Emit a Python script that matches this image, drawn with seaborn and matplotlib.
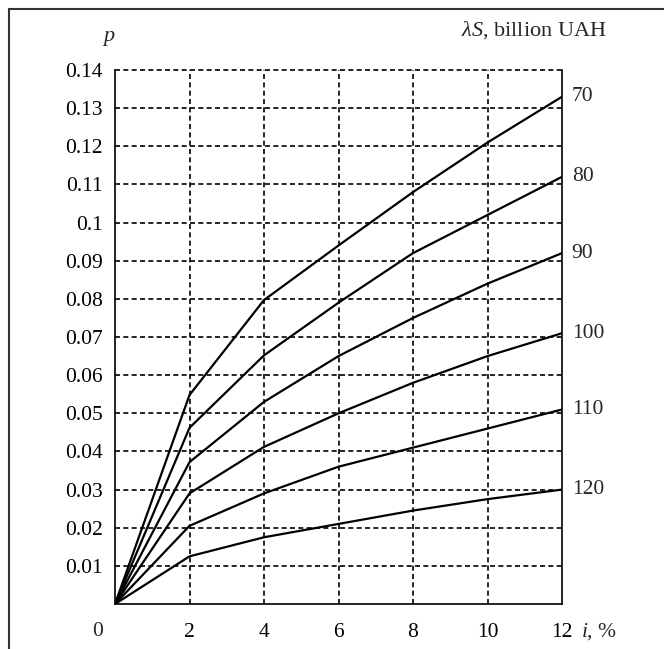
import numpy as np
import pandas as pd
import seaborn as sns
import matplotlib.pyplot as plt
import matplotlib.transforms as mtransforms
from matplotlib.lines import Line2D

# interest rate i, %
rates = [0, 2, 4, 6, 8, 10, 12]
# lambda*S, billion UAH (curve labels)
volumes = [70, 80, 90, 100, 110, 120]
# probability p for each curve
p70 = [0, 0.0548, 0.0797, 0.094, 0.108, 0.121, 0.133]
p80 = [0, 0.0462, 0.0652, 0.079, 0.092, 0.102, 0.112]
p90 = [0, 0.0372, 0.0530, 0.065, 0.075, 0.084, 0.092]
p100 = [0, 0.0290, 0.0412, 0.050, 0.058, 0.065, 0.071]
p110 = [0, 0.0205, 0.0290, 0.036, 0.041, 0.046, 0.051]
p120 = [0, 0.0125, 0.0175, 0.021, 0.0245, 0.0275, 0.030]
curves = [p70, p80, p90, p100, p110, p120]

ytick_vals = [round(0.01 * k, 2) for k in range(0, 15)]
ytick_labels = [''] + ['%g' % v for v in ytick_vals[1:]]
xtick_vals = [0, 2, 4, 6, 8, 10, 12]
xtick_labels = [''] + [str(v) for v in xtick_vals[1:]]

FS = 15.5

sns.set_style('white')
plt.rcParams['font.family'] = ['Liberation Serif', 'DejaVu Serif']
plt.rcParams['mathtext.fontset'] = 'custom'
plt.rcParams['mathtext.rm'] = 'Liberation Serif'
plt.rcParams['mathtext.it'] = 'Liberation Serif:italic'

fig = plt.figure(figsize=(6.64, 6.49), dpi=100)
ax = fig.add_axes([0.1732, 0.0693, 0.8464 - 0.1732, 0.8921 - 0.0693])

rows = []
for vol, vals in zip(volumes, curves):
    for r, v in zip(rates, vals):
        rows.append({'i': r, 'p': v, 'S': vol})
df = pd.DataFrame(rows)

sns.lineplot(data=df, x='i', y='p', hue='S', palette=['black'] * len(volumes),
             linewidth=1.6, legend=False, ax=ax, zorder=3)

ax.set_xlim(0, 12)
ax.set_ylim(0, 0.14)
ax.set_xticks(xtick_vals)
ax.set_xticklabels(xtick_labels)
ax.set_yticks(ytick_vals)
ax.set_yticklabels(ytick_labels)
ax.set_xlabel('')
ax.set_ylabel('')
ax.tick_params(axis='both', direction='out', length=7, width=1.2,
               color='black', labelsize=FS, labelcolor='black', pad=2)
ax.tick_params(axis='x', pad=7)

for xv in xtick_vals[1:-1]:
    ax.axvline(xv, color='black', linestyle=(0, (3, 2)), linewidth=1.2, zorder=1)
for yv in ytick_vals[1:]:
    ax.axhline(yv, color='black', linestyle=(0, (3, 2)), linewidth=1.2, zorder=1,
               clip_on=False)

for side in ['left', 'right', 'bottom']:
    ax.spines[side].set_color('black')
    ax.spines[side].set_linewidth(1.2)
ax.spines['top'].set_visible(False)

# curve labels on the right
for vol, vals in zip(volumes, curves):
    ax.annotate(str(vol), xy=(12, vals[-1]), xytext=(7, 0),
                textcoords='offset points', va='center', ha='left', fontsize=FS)

trans = mtransforms.blended_transform_factory(ax.transData, ax.transAxes)
ax.text(-0.48, -0.052, '0', transform=trans, ha='center', va='center', fontsize=FS)
ax.text(12.5, -0.052, '$i$, %', transform=trans, ha='left', va='center', fontsize=FS)
fig.text(109 / 664, 1 - 38 / 649, '$p$', ha='center', va='center', fontsize=16)
fig.text(607 / 664, 1 - 30 / 649, r'$\lambda S$, billion UAH', ha='right',
         va='center', fontsize=16)

# outer frame (top and left)
fig.add_artist(Line2D([9 / 664, 9 / 664], [0, 1 - 9 / 649], transform=fig.transFigure,
                      color='#333333', linewidth=1.5))
fig.add_artist(Line2D([9 / 664, 1], [1 - 9 / 649, 1 - 9 / 649], transform=fig.transFigure,
                      color='#333333', linewidth=1.5))

fig.savefig('out.png', dpi=100)
